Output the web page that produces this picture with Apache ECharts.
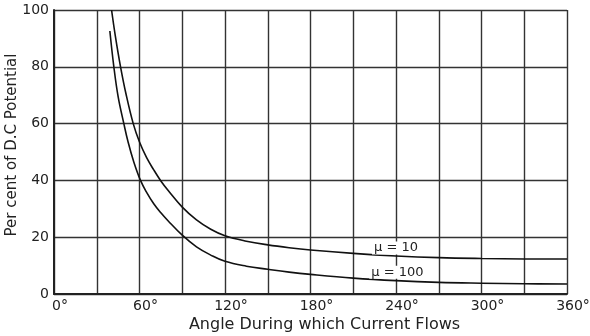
<!DOCTYPE html>
<html>
<head>
<meta charset="utf-8">
<script src="https://cdn.jsdelivr.net/npm/echarts@6/dist/echarts.min.js"></script>
<style>
  html, body { margin: 0; padding: 0; background: #fff; }
  #chart { width: 590px; height: 336px; }
</style>
</head>
<body>
<div id="chart"></div>
<script>
// Conduction angle (degrees) vs. percent of D.C. potential
const mu10 = [
  [40.4, 100], [43, 91], [46.7, 80], [50.5, 70.5], [55.6, 60], [60, 53.5],
  [65, 48], [70, 43.7], [75, 39.8], [80, 36.5], [90, 30.6], [100, 26.1],
  [110, 22.8], [120, 20.5], [135, 18.6], [150, 17.3], [165, 16.3],
  [180, 15.5], [210, 14.3], [240, 13.4], [270, 12.8], [300, 12.5],
  [330, 12.35], [360, 12.3]
];
const mu100 = [
  [39.2, 92.6], [42, 80], [45, 69.5], [49, 60], [52, 53.5], [56, 46.5],
  [60.7, 40], [65, 35.8], [70, 31.8], [75, 28.6], [80, 25.8], [90, 20.7],
  [100, 16.6], [110, 13.7], [120, 11.5], [135, 9.8], [150, 8.7],
  [165, 7.7], [180, 6.9], [210, 5.6], [240, 4.7], [270, 4.1], [300, 3.8],
  [330, 3.6], [360, 3.5]
];
const curveLabels = [
  { text: 'μ = 10', at: [240, 16.2], data: mu10 },
  { text: 'μ = 100', at: [241, 7.7], data: mu100 }
];
const xTitle = 'Angle During which Current Flows';
const yTitle = 'Per cent of D.C Potential';

const font = 'DejaVu Sans';
const ink = '#222';
const gridLine = { color: '#333', width: 1.4 };

const chart = echarts.init(document.getElementById('chart'));
chart.setOption({
  backgroundColor: '#fff',
  animation: false,
  grid: { left: 54, right: 23, top: 10, bottom: 42, containLabel: false, outerBoundsMode: 'none' },
  xAxis: {
    type: 'value', min: 0, max: 360, interval: 60,
    name: xTitle, nameLocation: 'middle', nameGap: 23, nameMoveOverlap: false,
    nameTextStyle: { fontFamily: font, fontSize: 16, color: ink, padding: [0, 0, 0, 28] },
    axisLine: { show: true, lineStyle: { color: '#222', width: 2 } },
    axisTick: { show: false },
    axisLabel: {
      fontFamily: font, fontSize: 14, color: ink, margin: 5,
      padding: [0, 0, 0, 12],
      formatter: v => v + '°'
    },
    splitLine: { show: true, lineStyle: gridLine },
    minorTick: { show: false, splitNumber: 2 },
    minorSplitLine: { show: true, lineStyle: gridLine }
  },
  yAxis: {
    type: 'value', min: 0, max: 100, interval: 20,
    name: yTitle, nameLocation: 'middle', nameGap: 34, nameMoveOverlap: false,
    nameTextStyle: { fontFamily: font, fontSize: 15, color: ink, padding: [0, 0, 0, 14] },
    axisLine: { show: true, lineStyle: { color: '#222', width: 2 } },
    axisTick: { show: false },
    axisLabel: { fontFamily: font, fontSize: 14, color: ink, margin: 5 },
    splitLine: { show: true, lineStyle: gridLine }
  },
  series: curveLabels.map(c => ({
    type: 'line',
    data: c.data,
    smooth: 0.4,
    symbol: 'none',
    lineStyle: { color: '#111', width: 1.6 },
    markPoint: {
      symbol: 'circle', symbolSize: 0,
      data: [{ coord: c.at }],
      label: {
        show: true, position: 'inside', formatter: c.text,
        fontFamily: font, fontSize: 13, color: ink,
        backgroundColor: '#fff', padding: [0, 2]
      }
    }
  }))
});
</script>
</body>
</html>
